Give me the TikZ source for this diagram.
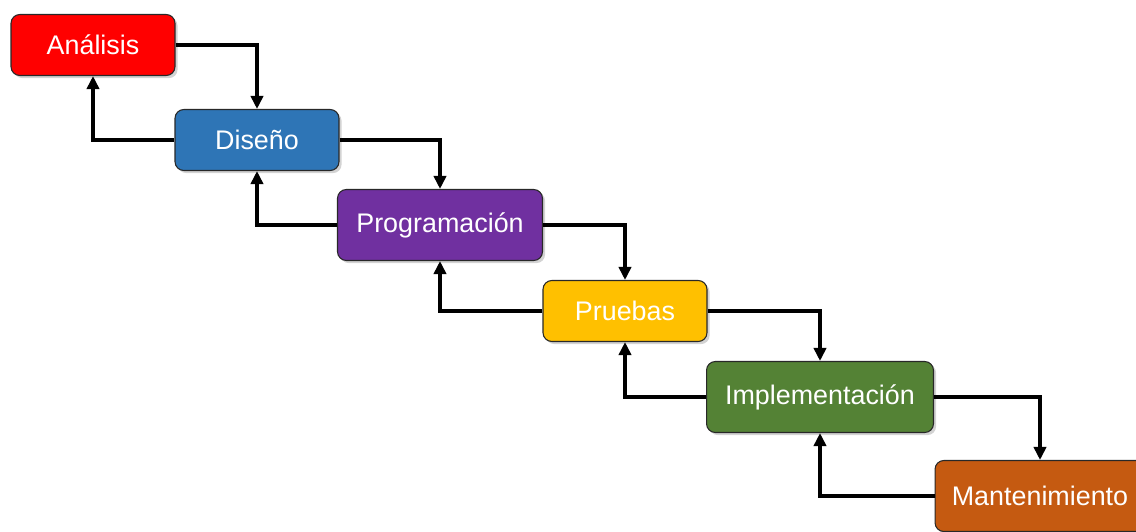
\documentclass[tikz,border=0pt]{standalone}
\usepackage{fontspec}
\setmainfont{Liberation Sans}
\usepackage{xcolor}
\definecolor{rojo}{RGB}{255, 0, 0}
\definecolor{azul}{RGB}{46, 117, 182}
\definecolor{morado}{RGB}{112, 48, 160}
\definecolor{amarillo}{RGB}{255, 192, 0}
\definecolor{verde}{RGB}{84, 130, 53}
\definecolor{naranja}{RGB}{197, 90, 17}
\definecolor{borde}{RGB}{40, 40, 40}
\usepackage{tikz}
\usetikzlibrary{arrows.meta,shapes,shadows,calc,positioning}
\tikzstyle{etapa} =[rectangle, draw=borde, rounded corners=5pt,
                    line width=0.6pt, text=white, inner sep=0pt,
                    minimum height=1.22cm,
                    drop shadow={opacity=0.35, shadow xshift=1.5pt, shadow yshift=-1.5pt},
                    font=\fontsize{15.3}{18}\selectfont]
\tikzstyle{flecha}=[-{Triangle[length=7.5pt, width=7pt]},
                    line width=2pt]

\begin{document}
\begin{tikzpicture}[x=0.02cm, y=-0.02cm]
    \useasboundingbox (0,0) rectangle (1136,531);
    \clip (0,0) rectangle (1136,531);

    \draw (93,45) node (ana) [etapa, fill=rojo, minimum width=3.28cm] {Análisis};
    \draw (257,140) node (dis) [etapa, fill=azul, minimum width=3.28cm] {Diseño};
    \draw (440,225) node (pro) [etapa, fill=morado, minimum width=4.1cm, minimum height=1.42cm] {Programación};
    \draw (625,311) node (pru) [etapa, fill=amarillo, minimum width=3.28cm] {Pruebas};
    \draw (820,397) node (imp) [etapa, fill=verde, minimum width=4.54cm, minimum height=1.42cm] {Implementación};
    \draw (1040,496) node (man) [etapa, fill=naranja, minimum width=4.2cm, minimum height=1.42cm] {Mantenimiento};

    % hacia abajo
    \foreach \i/\j in {ana/dis,dis/pro,pro/pru,pru/imp,imp/man}
        \draw [flecha] (\i.east) -| (\j.north);
    % de vuelta
    \foreach \i/\j in {dis/ana,pro/dis,pru/pro,imp/pru,man/imp}
        \draw [flecha] (\i.west) -| (\j.south);

\end{tikzpicture}
\end{document}
